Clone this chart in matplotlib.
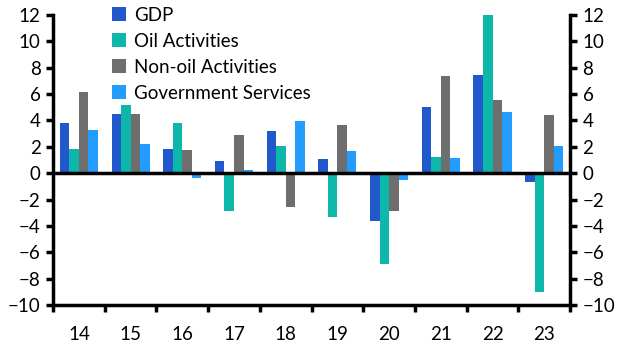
import numpy as np
import matplotlib.pyplot as plt

plt.rcParams['font.family'] = ['Lato', 'DejaVu Sans']

years = ['14', '15', '16', '17', '18', '19', '20', '21', '22', '23']
gdp = [3.8, 4.5, 1.8, 0.9, 3.2, 1.05, -3.6, 5.0, 7.45, -0.7]
oil = [1.8, 5.2, 3.8, -2.9, 2.1, -3.3, -6.9, 1.2, 12.0, -9.05]
non_oil = [6.15, 4.5, 1.75, 2.9, -2.55, 3.65, -2.9, 7.4, 5.55, 4.4]
gov = [3.27, 2.2, -0.35, 0.25, 3.95, 1.7, -0.55, 1.15, 4.65, 2.05]

series = [('GDP', gdp, '#2158cc'),
          ('Oil Activities', oil, '#0db8aa'),
          ('Non-oil Activities', non_oil, '#6e6e6e'),
          ('Government Services', gov, '#229cff')]

fig = plt.figure(figsize=(6.29, 3.58), dpi=100)
ax = fig.add_axes([0.0843, 0.148, 0.822, 0.81])

x = np.arange(len(years))
w = 0.184
for i, (name, vals, col) in enumerate(series):
    ax.bar(x + (i - 1.5) * w, vals, w, color=col, label=name, zorder=2)

ax.axhline(0, color='black', lw=2.5, zorder=3)
ax.set_xlim(-0.5, len(years) - 0.5)
ax.set_ylim(-10, 12)
ax.set_yticks(range(-10, 13, 2))

# x ticks between categories, labels at centres
ax.set_xticks(np.arange(-0.5, len(years), 1))
ax.set_xticklabels([])
ax.set_xticks(x, minor=True)
ax.set_xticklabels(years, minor=True)
ax.tick_params(axis='x', which='major', direction='out', length=5, width=2.5)
ax.tick_params(axis='x', which='minor', length=0, pad=15, labelsize=13.5)
ax.tick_params(axis='y', direction='out', length=5, width=2.5, labelsize=13.5,
               left=True, right=True, labelleft=True, labelright=True, pad=4)

for s in ['left', 'right', 'bottom']:
    ax.spines[s].set_linewidth(2.5)
ax.spines['top'].set_visible(False)

ax.legend(loc='upper left', bbox_to_anchor=(0.1, 1.055), frameon=False,
          fontsize=13.5, handlelength=0.75, handleheight=0.75, handletextpad=0.4,
          labelspacing=0.48, borderaxespad=0)

fig.savefig('out.png', dpi=100)
